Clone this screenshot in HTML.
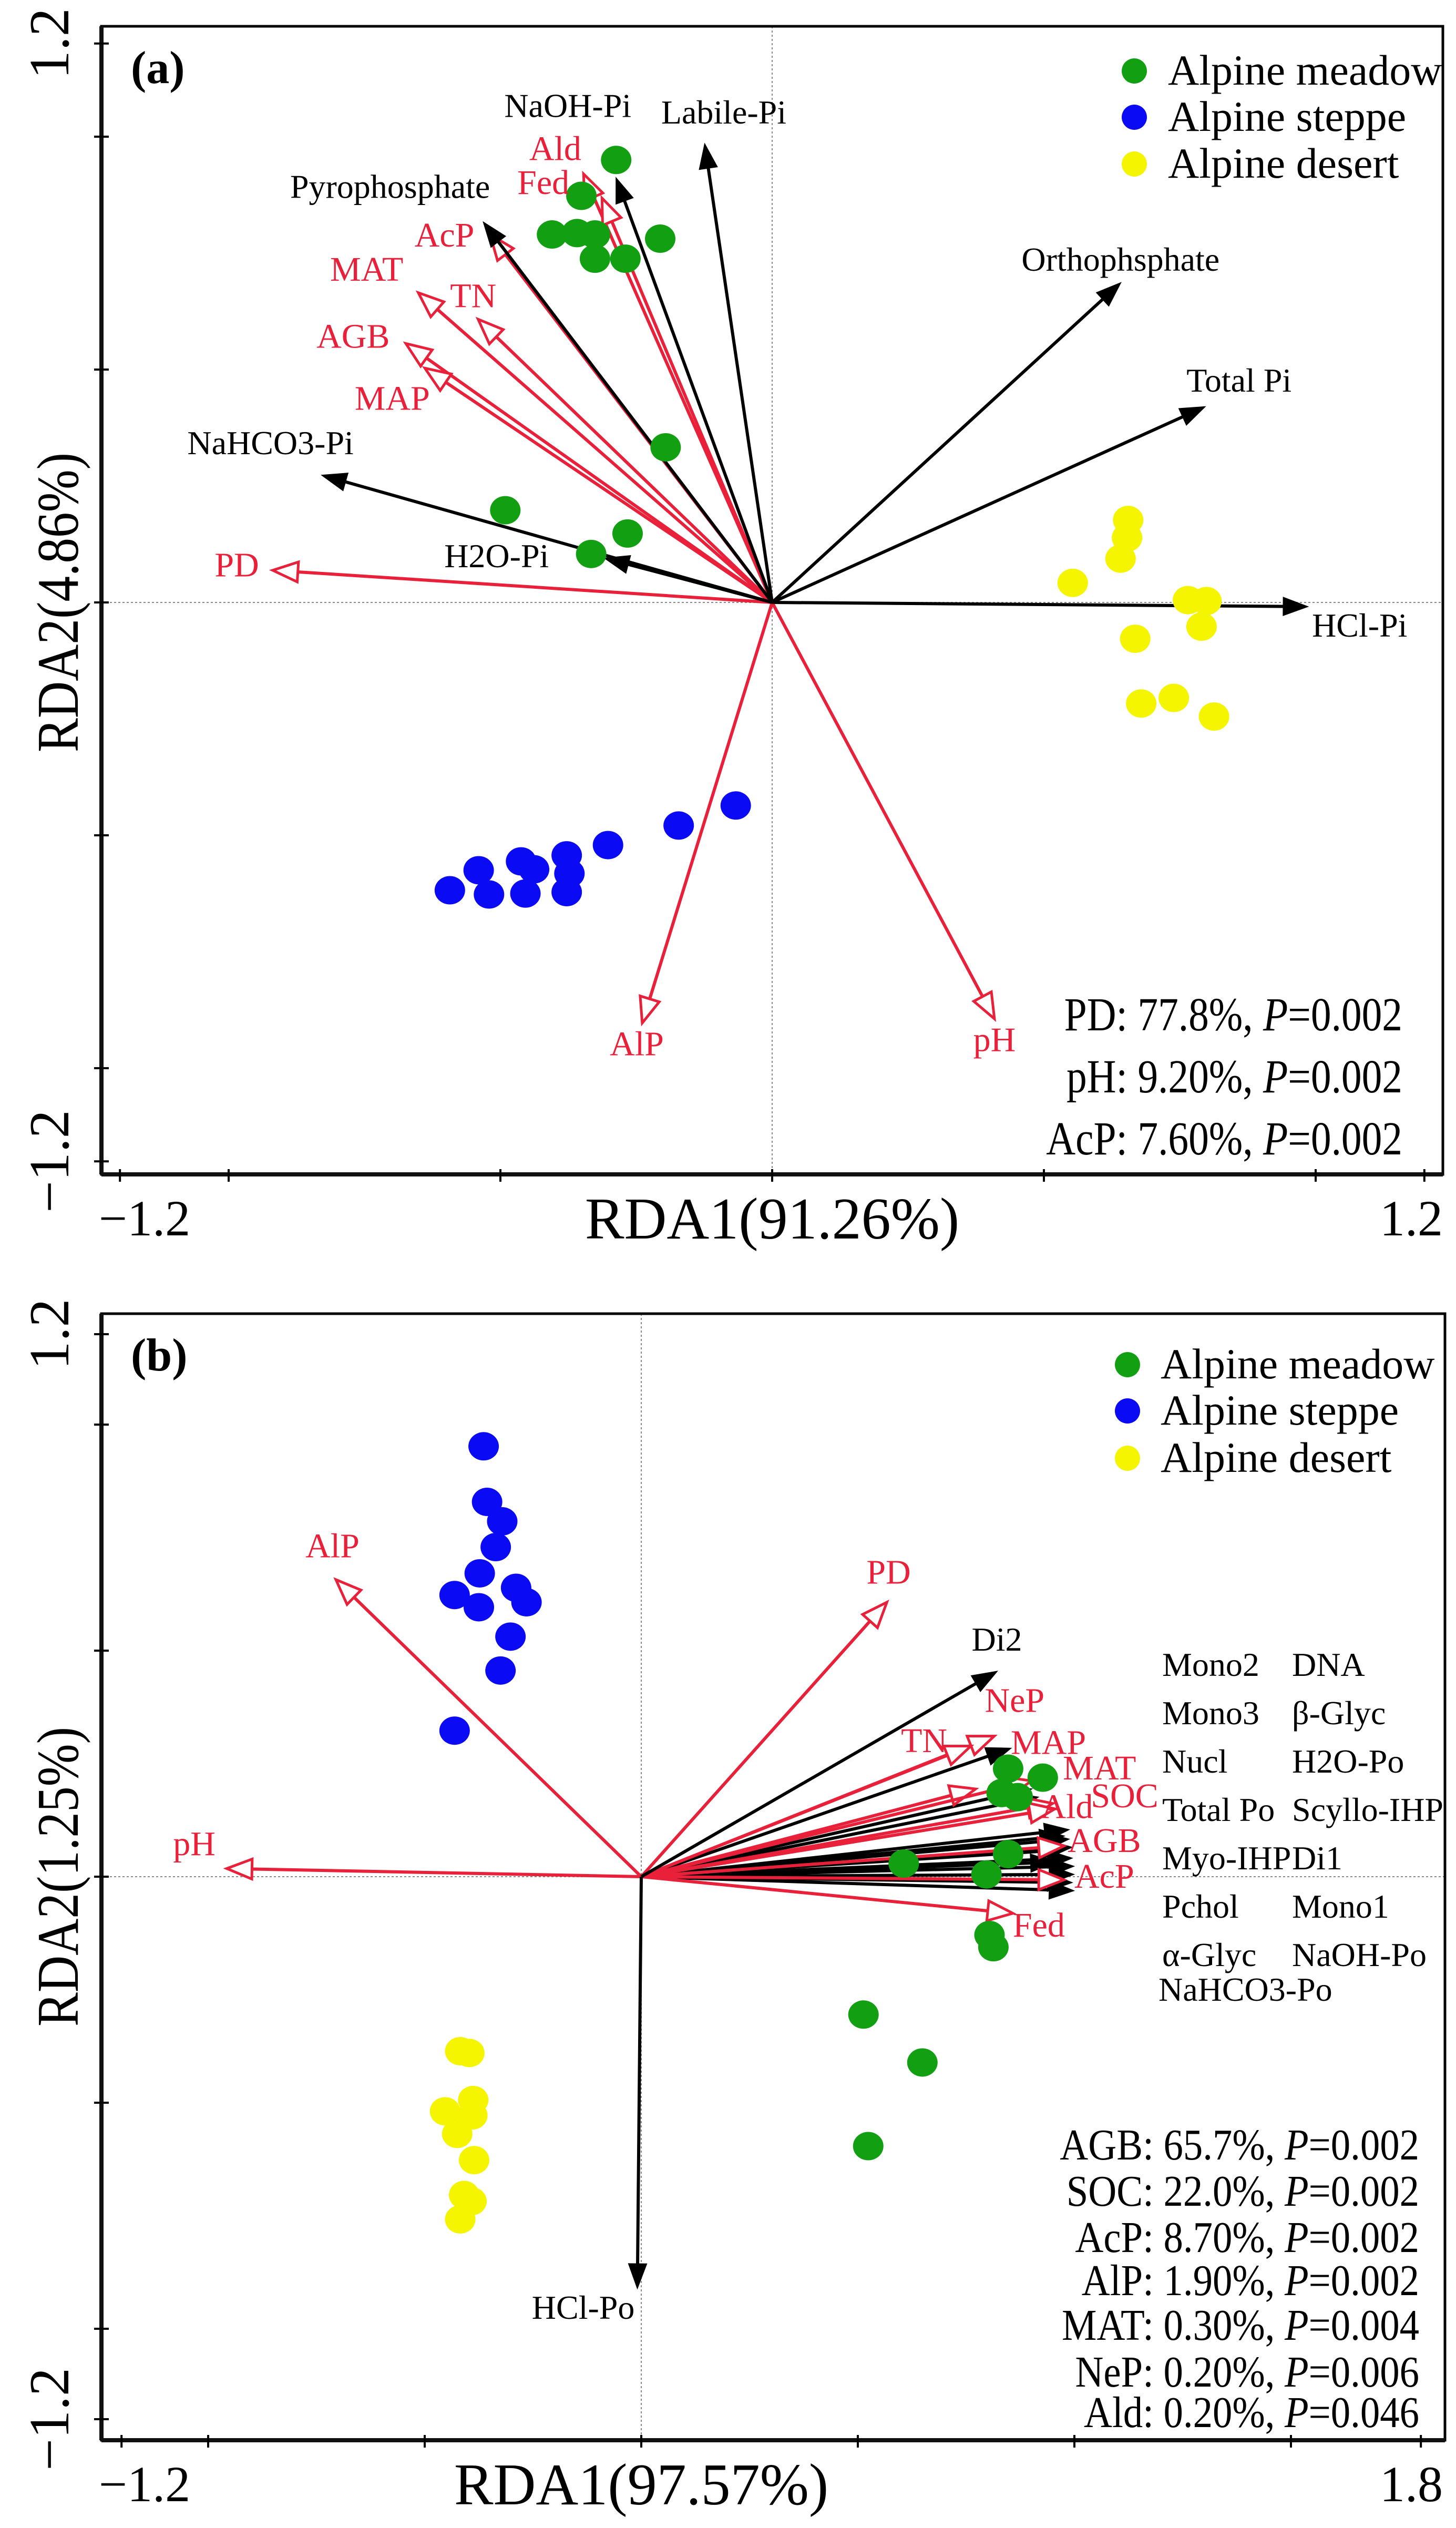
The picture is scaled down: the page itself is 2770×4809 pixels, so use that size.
<!DOCTYPE html>
<html><head><meta charset="utf-8">
<style>
html,body{margin:0;padding:0;background:#fff;}
svg{display:block;font-family:"Liberation Serif","DejaVu Serif",serif;}
svg text{font-family:"Liberation Serif","DejaVu Serif",serif;}
</style></head>
<body>
<svg id="fig" width="2770" height="4809" viewBox="0 0 2770 4809" xmlns="http://www.w3.org/2000/svg">
<rect width="2770" height="4809" fill="#fff"/>
</svg>
<script>
// ---------- Panel A data ----------
const aMeadowX=[-0.287,-0.351,-0.405,-0.359,-0.326,-0.206,-0.326,-0.270,-0.196,-0.491,-0.266,-0.333];
const aMeadowY=[0.950,0.873,0.790,0.793,0.790,0.781,0.738,0.738,0.333,0.198,0.148,0.104];
const aDesertX=[0.655,0.653,0.641,0.553,0.765,0.799,0.790,0.668,0.679,0.739,0.813];
const aDesertY=[0.177,0.139,0.094,0.042,0.005,0.003,-0.052,-0.078,-0.217,-0.205,-0.245];
const aSteppeX=[-0.067,-0.172,-0.302,-0.378,-0.462,-0.438,-0.540,-0.373,-0.593,-0.521,-0.454,-0.378];
const aSteppeY=[-0.436,-0.479,-0.521,-0.543,-0.556,-0.573,-0.575,-0.582,-0.618,-0.627,-0.625,-0.622];
const aBlackNames=["NaOH-Pi","Labile-Pi","Pyrophosphate","Orthophsphate","Total Pi","NaHCO3-Pi","H2O-Pi","HCl-Pi"];
const aBlackX=[-0.287,-0.124,-0.531,0.641,0.796,-0.828,-0.308,0.985];
const aBlackY=[0.911,0.984,0.816,0.686,0.420,0.273,0.095,-0.009];
const aBlackLabX=[-0.376,-0.089,-0.703,0.641,0.859,-0.923,-0.507,1.081];
const aBlackLabY=[1.059,1.045,0.885,0.729,0.469,0.335,0.092,-0.057];
const aRedNames=["Ald","Fed","AcP","MAT","TN","AGB","MAP","PD","AlP","pH"];
const aRedX=[-0.347,-0.313,-0.519,-0.651,-0.541,-0.674,-0.639,-0.919,-0.239,0.409];
const aRedY=[0.920,0.868,0.790,0.665,0.608,0.556,0.503,0.069,-0.903,-0.894];
const aRedLabX=[-0.399,-0.421,-0.603,-0.746,-0.550,-0.771,-0.699,-0.985,-0.249,0.409];
const aRedLabY=[0.967,0.894,0.781,0.708,0.651,0.564,0.431,0.073,-0.955,-0.946];
const aStats=["PD: 77.8%, |P|=0.002","pH: 9.20%, |P|=0.002","AcP: 7.60%, |P|=0.002"];
const aXTicks=[-1.2,-1,-0.5,0,0.5,1,1.2];
const aYTicks=[1.2,1,0.5,0,-0.5,-1,-1.2];

// ---------- Panel B data ----------
const bSteppeX=[-0.364,-0.356,-0.321,-0.336,-0.373,-0.289,-0.431,-0.375,-0.265,-0.302,-0.325,-0.431];
const bSteppeY=[0.952,0.829,0.786,0.729,0.671,0.639,0.623,0.596,0.607,0.531,0.456,0.323];
const bMeadowX=[0.847,0.927,0.832,0.869,0.847,0.606,0.797,0.804,0.813,0.513,0.649,0.524];
const bMeadowY=[0.239,0.219,0.185,0.176,0.050,0.029,0.005,-0.129,-0.156,-0.305,-0.411,-0.596];
const bDesertX=[-0.418,-0.397,-0.388,-0.453,-0.390,-0.425,-0.386,-0.409,-0.392,-0.418];
const bDesertY=[-0.386,-0.390,-0.494,-0.519,-0.528,-0.569,-0.627,-0.704,-0.718,-0.758];
const bBlackNames=["Di2","HCl-Po"];
const bBlackX=[0.821,-0.009];
const bBlackY=[0.454,-0.910];
const bBlackLabX=[0.821,-0.134];
const bBlackLabY=[0.517,-0.961];
const bBundleX=[0.853,0.901,0.916,0.976,0.987,0.987,0.972,0.994,0.994,0.998,0.998,0.994,0.998,0.955];
const bBundleY=[0.284,0.194,0.176,0.090,0.104,0.083,0.059,0.065,0.041,0.023,0.005,-0.013,-0.031,0.032];
const bRedNames=["AlP","pH","PD","NeP","TN","MAP","MAT","Ald","SOC","AGB","AcP","Fed"];
const bRedX=[-0.705,-0.957,0.567,0.815,0.761,0.772,0.901,0.950,0.955,0.976,0.976,0.858];
const bRedY=[0.657,0.018,0.607,0.311,0.289,0.194,0.212,0.162,0.150,0.068,-0.007,-0.081];
const bRedLabX=[-0.713,-1.032,0.571,0.862,0.653,0.940,1.058,0.983,1.116,1.069,1.069,0.918];
const bRedLabY=[0.724,0.065,0.666,0.382,0.293,0.289,0.233,0.147,0.171,0.072,-0.007,-0.115];
const bList1=["Mono2","Mono3","Nucl","Total Po","Myo-IHP","Pchol","α-Glyc"];
const bList2=["DNA","β-Glyc","H2O-Po","Scyllo-IHP","Di1","Mono1","NaOH-Po"];
const bStats=["AGB: 65.7%, |P|=0.002","SOC: 22.0%, |P|=0.002","AcP: 8.70%, |P|=0.002","AlP: 1.90%, |P|=0.002","MAT: 0.30%, |P|=0.004","NeP: 0.20%, |P|=0.006","Ald: 0.20%, |P|=0.046"];
const bXTicks=[-1.2,-1,-0.5,0,0.5,1,1.5,1.8];
const bYTicks=[1.2,1,0.5,0,-0.5,-1,-1.2];

const NS="http://www.w3.org/2000/svg";
const svg=document.getElementById('fig');
function mk(tag,attrs,parent){const e=document.createElementNS(NS,tag);for(const k in attrs)e.setAttribute(k,attrs[k]);(parent||svg).appendChild(e);return e;}
const RED="#e8203a";

function panel(cfg){
  const g=mk('g',{});
  
  
  const sx=v=>cfg.x0+v*cfg.kx, sy=v=>cfg.y0-v*cfg.ky;
  const zl1=mk('line',{x1:sx(0),x2:sx(0),y1:cfg.top,y2:cfg.bottom,stroke:'#888','stroke-width':2,'stroke-dasharray':'4,4'},g);
  
  
  const zl2=mk('line',{x1:cfg.left,x2:cfg.right,y1:sy(0),y2:sy(0),stroke:'#888','stroke-width':2,'stroke-dasharray':'4,4'},g);
  
  
  const fr=mk('rect',{x:cfg.left,y:cfg.top,width:cfg.right-cfg.left,height:cfg.bottom-cfg.top,fill:'none',stroke:'#000','stroke-width':5},g);
  
  
  mk('line',{x1:cfg.left,x2:cfg.left,y1:cfg.top,y2:cfg.bottom,stroke:'#111','stroke-width':8},g);
  mk('line',{x1:cfg.left,x2:cfg.right,y1:cfg.bottom,y2:cfg.bottom,stroke:'#111','stroke-width':8},g);
  cfg.xt.forEach(t=>{const l=mk('line',{x1:sx(t),x2:sx(t),y1:cfg.bottom-10,y2:cfg.bottom+14,stroke:'#000','stroke-width':4},g);
    
    });
  cfg.yt.forEach(t=>{const l=mk('line',{x1:cfg.left-14,x2:cfg.left+14,y1:sy(t),y2:sy(t),stroke:'#000','stroke-width':4},g);
    
    });
  const xl1=mk('text',{x:275,y:cfg.bottom+116,'font-size':96,'text-anchor':'middle'},g);xl1.textContent='−'+Math.abs(cfg.xt[0]).toFixed(1);
  
  
  const xl2=mk('text',{x:2685,y:cfg.bottom+116,'font-size':96,'text-anchor':'middle'},g);xl2.textContent=cfg.xt[cfg.xt.length-1].toFixed(1);
  
  
  const yl1=mk('text',{x:0,y:0,'font-size':108,'text-anchor':'middle',transform:`translate(130,${sy(cfg.yt[0])}) rotate(-90)`},g);yl1.textContent=cfg.yt[0].toFixed(1);
  
  
  const yl2=mk('text',{x:0,y:0,'font-size':108,'text-anchor':'middle',transform:`translate(130,${sy(cfg.yt[cfg.yt.length-1])}) rotate(-90)`},g);yl2.textContent='−'+Math.abs(cfg.yt[cfg.yt.length-1]).toFixed(1);
  
  
  const xt=mk('text',{x:sx(0),y:cfg.bottom+122,'font-size':112,'text-anchor':'middle'},g);xt.textContent=cfg.xtitle;
  
  
  const yt=mk('text',{x:0,y:0,'font-size':112,'text-anchor':'middle',textLength:570,lengthAdjust:'spacingAndGlyphs',transform:`translate(148,${sy(0)}) rotate(-90)`},g);yt.textContent=cfg.ytitle;
  
  
  const pl=mk('text',{x:cfg.left+56,y:cfg.top+108,'font-size':88,'font-weight':'bold'},g);pl.textContent=cfg.plabel;
  
  
  return {g,sx,sy};
}

function arrow(P,vx,vy,color,open,name){
  const x0=P.sx(0),y0=P.sy(0),x1=P.sx(vx),y1=P.sy(vy);
  const dx=x1-x0,dy=y1-y0,L=Math.hypot(dx,dy)||1,ux=dx/L,uy=dy/L;
  const hl=open?48:46,hw=open?19:17;
  const bx=x1-ux*hl,by=y1-uy*hl;
  const g=mk('g',{},P.g);
  
  
  mk('line',{x1:x0,y1:y0,x2:open?bx:bx+ux*4,y2:open?by:by+uy*4,stroke:color,'stroke-width':6},g);
  const pts=`${x1},${y1} ${bx-uy*hw},${by+ux*hw} ${bx+uy*hw},${by-ux*hw}`;
  mk('polygon',{points:pts,fill:open?'#fff':color,stroke:color,'stroke-width':open?5:2,'stroke-linejoin':'miter'},g);
}
function label(P,x,y,txt,color,size,name){
  const t=mk('text',{x:P.sx(x),y:P.sy(y),fill:color,'font-size':size,'text-anchor':'middle','dominant-baseline':'middle'},P.g);
  t.textContent=txt;
  
  
}
function points(P,xs,ys,color,name){
  xs.forEach((v,i)=>{const c=mk('ellipse',{cx:P.sx(v),cy:P.sy(ys[i]),rx:29,ry:27,fill:color},P.g);
    
    });
}
function legend(P,x,ys,tx){
  const items=[["Alpine meadow","#12a012"],["Alpine steppe","#0a0af5"],["Alpine desert","#f5f500"]];
  items.forEach((it,i)=>{
    const c=mk('circle',{cx:x,cy:ys[i],r:24,fill:it[1]},P.g);
    
    
    const t=mk('text',{x:tx,y:ys[i]+26,'font-size':82},P.g);t.textContent=it[0];
    
    
  });
}
function stats(P,arr,xr,ys,size,scale){
  arr.forEach((s,i)=>{
    const parts=s.split('|');
    const t=mk('text',{x:0,y:0,'font-size':size,'text-anchor':'end',transform:`translate(${xr},${ys[i]}) scale(${scale},1)`},P.g);
    
    
    const a=mk('tspan',{},t);a.textContent=parts[0];
    const b=mk('tspan',{'font-style':'italic'},t);b.textContent=parts[1];
    const c=mk('tspan',{},t);c.textContent=parts[2];
  });
}

// ---------- Panel A ----------
const A=panel({name:'panel-a',left:193,right:2745,top:50,bottom:2234,x0:1469,kx:1034,y0:1146,ky:886,xt:aXTicks,yt:aYTicks,xtitle:'RDA1(91.26%)',ytitle:'RDA2(4.86%)',plabel:'(a)'});
aRedX.forEach((v,i)=>arrow(A,v,aRedY[i],RED,true,'arrow-'+aRedNames[i].toLowerCase()));
aBlackX.forEach((v,i)=>arrow(A,v,aBlackY[i],'#000',false,'arrow-'+aBlackNames[i].toLowerCase().replace(/ /g,'-')));
points(A,aMeadowX,aMeadowY,'#12a012','meadow-point');
points(A,aSteppeX,aSteppeY,'#0a0af5','steppe-point');
points(A,aDesertX,aDesertY,'#f5f500','desert-point');
aBlackNames.forEach((n,i)=>label(A,aBlackLabX[i],aBlackLabY[i],n,'#000',64,'label-'+n.toLowerCase().replace(/ /g,'-')));
aRedNames.forEach((n,i)=>label(A,aRedLabX[i],aRedLabY[i],n,RED,66,'label-'+n.toLowerCase()));
legend(A,2158,[135,223,312],2222);
stats(A,aStats,2668,[1960,2078,2196],90,0.86);

// ---------- Panel B ----------
const B=panel({name:'panel-b',left:193,right:2749,top:2499,bottom:4642,x0:1220,kx:824,y0:3570,ky:860,xt:bXTicks,yt:bYTicks,xtitle:'RDA1(97.57%)',ytitle:'RDA2(1.25%)',plabel:'(b)'});
bBundleX.forEach((v,i)=>arrow(B,v,bBundleY[i],'#000',false,'arrow-po-fraction'));
bRedX.forEach((v,i)=>arrow(B,v,bRedY[i],RED,true,'arrow-'+bRedNames[i].toLowerCase()));
bBlackX.forEach((v,i)=>arrow(B,v,bBlackY[i],'#000',false,'arrow-'+bBlackNames[i].toLowerCase()));
points(B,bSteppeX,bSteppeY,'#0a0af5','steppe-point');
points(B,bMeadowX,bMeadowY,'#12a012','meadow-point');
points(B,bDesertX,bDesertY,'#f5f500','desert-point');
bBlackNames.forEach((n,i)=>label(B,bBlackLabX[i],bBlackLabY[i],n,'#000',64,'label-'+n.toLowerCase()));
bRedNames.forEach((n,i)=>label(B,bRedLabX[i],bRedLabY[i],n,RED,66,'label-'+n.toLowerCase()));
bList1.forEach((n,i)=>{const t=mk('text',{x:2211,y:3188+i*92,'font-size':64},B.g);t.textContent=n;
  
  });
bList2.forEach((n,i)=>{const t=mk('text',{x:2458,y:3188+i*92,'font-size':64},B.g);t.textContent=n;
  
  });
(function(){const t=mk('text',{x:2204,y:3806,'font-size':64},B.g);t.textContent='NaHCO3-Po';
  
  })();
legend(B,2145,[2596,2684,2774],2208);
stats(B,bStats,2700,[4108,4196,4284,4366,4451,4540,4617],84,0.89);
</script>
</body></html>
